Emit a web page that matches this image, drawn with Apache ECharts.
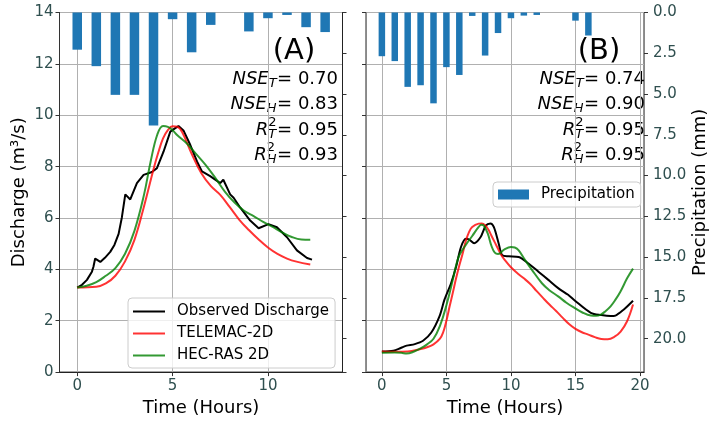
<!DOCTYPE html>
<html>
<head>
<meta charset="utf-8">
<script src="https://cdn.jsdelivr.net/npm/echarts@6/dist/echarts.min.js"></script>
<style>
  html, body { margin: 0; padding: 0; background: #fff; }
  #chart { width: 710px; height: 422px; }
</style>
</head>
<body>
<div id="chart"></div>
<script>
// ---- Event A: hourly precipitation (mm) ----
const precipHoursA = [0, 1, 2, 3, 4, 5, 6, 7, 8, 9, 10, 11, 12, 13];
const precipA = [2.28, 3.29, 5.05, 5.05, 6.93, 0.41, 2.44, 0.76, 0, 1.16, 0.35, 0.15, 0.9, 1.2];

// ---- Event A: discharge (m3/s) ----
const tObsA = [0, 0.25, 0.51, 0.77, 0.85, 0.94, 1.0, 1.21, 1.45, 1.73, 1.95, 2.17, 2.34, 2.52, 2.78, 3.13, 3.48, 3.92, 4.18, 4.53, 4.88, 5.14, 5.31, 5.57, 5.93, 6.28, 6.54, 6.97, 7.5, 7.66, 8.02, 8.2, 8.55, 9.07, 9.51, 10.03, 10.47, 11.0, 11.52, 12.05, 12.31];
const qObsA = [3.29, 3.4, 3.59, 3.91, 4.1, 4.42, 4.48, 4.29, 4.45, 4.68, 4.95, 5.38, 6.02, 6.92, 6.72, 7.36, 7.68, 7.79, 7.94, 8.59, 9.36, 9.5, 9.58, 9.41, 8.84, 8.2, 7.81, 7.63, 7.36, 7.49, 6.92, 6.79, 6.4, 5.9, 5.6, 5.76, 5.64, 5.25, 4.74, 4.44, 4.38];

const tTelA = [0, 1.0, 1.5, 2.0, 2.5, 3.0, 3.5, 4.0, 4.25, 4.5, 4.75, 5.0, 5.25, 5.5, 6.0, 6.5, 7.0, 7.5, 8.0, 8.5, 9.0, 9.5, 10.0, 10.5, 11.0, 11.5, 12.22];
const qTelA = [3.29, 3.32, 3.45, 3.75, 4.3, 5.15, 6.45, 7.9, 8.55, 9.1, 9.42, 9.57, 9.55, 9.35, 8.5, 7.75, 7.25, 6.9, 6.42, 5.93, 5.53, 5.17, 4.85, 4.6, 4.42, 4.3, 4.19];

const tHecA = [0, 0.5, 1.0, 1.5, 2.0, 2.5, 3.0, 3.5, 3.85, 4.2, 4.5, 4.75, 5.0, 5.25, 5.75, 6.25, 6.75, 7.25, 7.75, 8.25, 8.75, 9.25, 9.75, 10.25, 10.75, 11.25, 11.75, 12.22];
const qHecA = [3.29, 3.36, 3.5, 3.75, 4.05, 4.6, 5.5, 6.9, 8.2, 9.25, 9.58, 9.55, 9.42, 9.22, 8.9, 8.48, 8.05, 7.55, 7.02, 6.6, 6.28, 6.07, 5.85, 5.65, 5.44, 5.26, 5.16, 5.15];

// ---- Event B: hourly precipitation (mm) ----
const precipHoursB = [0, 1, 2, 3, 4, 5, 6, 7, 8, 9, 10, 11, 12, 13, 14, 15, 16];
const precipB = [2.68, 2.98, 4.56, 4.46, 5.57, 3.35, 3.83, 0.21, 2.64, 1.26, 0.35, 0.19, 0.15, 0, 0, 0.5, 1.41];

// ---- Event B: discharge (m3/s) ----
const tObsB = [0, 0.89, 1.5, 1.92, 2.55, 3.19, 3.83, 4.47, 4.85, 5.36, 5.75, 6.13, 6.51, 6.8, 7.15, 7.64, 8.05, 8.41, 8.68, 9.06, 9.33, 9.83, 10.6, 11.36, 12.13, 12.9, 13.66, 14.43, 14.92, 16.19, 17.0, 17.72, 18.1, 18.75, 19.46];
const qObsB = [0.8, 0.83, 0.95, 1.03, 1.09, 1.22, 1.54, 2.18, 2.82, 3.46, 4.1, 4.87, 5.19, 5.15, 5.02, 5.25, 5.7, 5.79, 5.64, 4.99, 4.55, 4.51, 4.48, 4.23, 3.91, 3.59, 3.27, 3.01, 2.8, 2.31, 2.22, 2.18, 2.2, 2.44, 2.78];

const tTelB = [0, 1, 2, 3, 3.5, 4.0, 4.5, 4.75, 5.0, 5.25, 5.5, 5.75, 6.0, 6.25, 6.5, 6.75, 7.0, 7.5, 7.75, 8.0, 8.25, 8.5, 8.75, 9.0, 9.25, 9.5, 10.0, 10.5, 11.0, 11.5, 12.0, 12.5, 13.0, 13.5, 14.0, 14.5, 15.0, 15.5, 16.0, 16.5, 17.0, 17.5, 18.0, 18.5, 19.0, 19.46];
const qTelB = [0.8, 0.79, 0.8, 0.9, 0.97, 1.08, 1.3, 1.55, 2.0, 2.56, 3.1, 3.65, 4.15, 4.6, 5.1, 5.45, 5.65, 5.78, 5.79, 5.72, 5.55, 5.3, 5.05, 4.8, 4.56, 4.38, 4.08, 3.85, 3.65, 3.43, 3.15, 2.88, 2.62, 2.38, 2.12, 1.87, 1.68, 1.55, 1.46, 1.36, 1.29, 1.28, 1.37, 1.58, 1.98, 2.63];

const tHecB = [0, 1, 1.5, 1.92, 2.5, 3.0, 3.5, 4.0, 4.5, 5.0, 5.5, 5.75, 6.0, 6.5, 7.0, 7.5, 7.7, 7.9, 8.2, 8.5, 8.75, 9.0, 9.5, 10.0, 10.3, 10.6, 11.1, 11.6, 12.4, 13.0, 13.66, 14.3, 14.92, 15.5, 16.19, 16.6, 16.96, 17.3, 17.72, 18.1, 18.49, 19.0, 19.46];
const qHecB = [0.75, 0.76, 0.75, 0.72, 0.8, 0.92, 1.08, 1.3, 1.8, 2.6, 3.6, 4.15, 4.55, 4.95, 5.3, 5.65, 5.74, 5.7, 5.4, 4.9, 4.65, 4.6, 4.78, 4.87, 4.85, 4.74, 4.36, 4.0, 3.46, 3.18, 2.95, 2.7, 2.5, 2.33, 2.2, 2.19, 2.24, 2.36, 2.56, 2.82, 3.14, 3.65, 4.03];

// ---- goodness-of-fit statistics ----
const statsA = { nseT: '0.70', nseH: '0.83', r2T: '0.95', r2H: '0.93' };
const statsB = { nseT: '0.74', nseH: '0.90', r2T: '0.95', r2H: '0.95' };

// tick values
const timeTicksA = [0, 5, 10];
const timeTicksB = [0, 5, 10, 15, 20];

const FONT = '"DejaVu Sans"';
const TICK_COLOR = '#2f4f4f';
const zip = (xs, ys) => xs.map((x, i) => [x, ys[i]]);

const chart = echarts.init(document.getElementById('chart'), null, { renderer: 'canvas' });

const measureCtx = document.createElement('canvas').getContext('2d');
function measure(text, font) { measureCtx.font = font; return measureCtx.measureText(text).width; }

function txt(x, y, text, font, align) {
  return {
    type: 'text', x: x, y: y, silent: true,
    style: { text: text, font: font, fill: '#000', align: align, textAlign: align, verticalAlign: 'middle', textVerticalAlign: 'middle' }
  };
}

// one "SYM_sub^sup= value" line, right aligned at xr
function statLine(xr, yc, base, sup, sub, val) {
  const bigFont = '18px ' + FONT;
  const itFont = 'italic 18px ' + FONT;
  const subFont = 'italic 13px ' + FONT;
  const supFont = '13px ' + FONT;
  const valText = '= ' + val;
  const out = [txt(xr, yc, valText, bigFont, 'right')];
  const x = xr - measure(valText, bigFont);
  const wScript = Math.max(measure(sub, subFont), sup ? measure(sup, supFont) : 0);
  const xs = x - wScript - 0.5;
  out.push(txt(xs, yc + 5, sub, subFont, 'left'));
  if (sup) out.push(txt(xs, yc - 7, sup, supFont, 'left'));
  out.push(txt(xs, yc, base, itFont, 'right'));
  return out;
}

function panelAnnotations(label, cx, xr, s) {
  const ys = [79, 104, 130, 155];
  return [txt(cx, 51, label, '29px ' + FONT, 'center')]
    .concat(statLine(xr, ys[0], 'NSE', null, 'T', s.nseT))
    .concat(statLine(xr, ys[1], 'NSE', null, 'H', s.nseH))
    .concat(statLine(xr, ys[2], 'R', '2', 'T', s.r2T))
    .concat(statLine(xr, ys[3], 'R', '2', 'H', s.r2H));
}

const tickStyle = { show: true, inside: false, length: 4, lineStyle: { color: '#333', width: 1 } };
const splitStyle = { show: true, lineStyle: { color: '#b0b0b0', width: 1 } };
const labelStyle = { color: TICK_COLOR, fontSize: 15, fontFamily: FONT };
const titleStyle = { color: '#000', fontSize: 18, fontFamily: FONT };

function timeAxis(gridIndex, min, max, ticks) {
  return {
    type: 'value', gridIndex: gridIndex, min: min, max: max,
    name: 'Time (Hours)', nameLocation: 'middle', nameGap: 25,
    nameTextStyle: titleStyle,
    axisLine: { show: true, onZero: false, lineStyle: { color: '#222', width: 1 } },
    axisTick: Object.assign({}, tickStyle, { customValues: ticks }),
    axisLabel: Object.assign({}, labelStyle, { margin: 7, customValues: ticks }),
    splitLine: splitStyle
  };
}

const lineSeries = (name, color, xi, yi, data, smooth) => ({
  type: 'line', name: name, xAxisIndex: xi, yAxisIndex: yi, data: data,
  showSymbol: false, smooth: smooth,
  lineStyle: { color: color, width: 2 }, itemStyle: { color: color },
  z: 3
});

const BLUE = '#1f77b4';
const RED = 'rgba(255,0,0,0.8)';
const GREEN = 'rgba(0,128,0,0.8)';

const option = {
  animation: false,
  backgroundColor: '#fff',
  textStyle: { fontFamily: FONT },
  grid: [
    { left: 59.5, top: 12.5, width: 283, height: 364, show: true, borderColor: '#222', borderWidth: 1, backgroundColor: 'transparent' },
    { left: 366, top: 12.5, width: 281, height: 364, show: true, borderColor: '#222', borderWidth: 1, backgroundColor: 'transparent' }
  ],
  xAxis: [
    timeAxis(0, -0.93, 13.91, timeTicksA),
    timeAxis(1, -1.23, 20.31, timeTicksB)
  ],
  yAxis: [
    { // discharge, panel A
      type: 'value', gridIndex: 0, min: 0, max: 14, interval: 2, position: 'left',
      name: 'Discharge (m³/s)', nameLocation: 'middle', nameGap: 31, nameRotate: 90,
      nameTextStyle: titleStyle,
      axisLine: { show: true, onZero: false, lineStyle: { color: '#333', width: 1 } },
      axisTick: tickStyle,
      axisLabel: Object.assign({}, labelStyle, { margin: 6 }),
      splitLine: splitStyle
    },
    { // precipitation, panel A (shared scale, no labels)
      type: 'value', gridIndex: 0, min: 0, max: 22.05, interval: 2.5, position: 'right', inverse: true,
      axisLine: { show: true, onZero: false, lineStyle: { color: '#222', width: 1 } },
      axisTick: tickStyle,
      axisLabel: { show: false },
      splitLine: { show: false }
    },
    { // discharge, panel B (shared scale, no labels)
      type: 'value', gridIndex: 1, min: 0, max: 14, interval: 2, position: 'left',
      axisLine: { show: true, onZero: false, lineStyle: { color: '#888', width: 1 } },
      axisTick: tickStyle,
      axisLabel: { show: false },
      splitLine: splitStyle
    },
    { // precipitation, panel B
      type: 'value', gridIndex: 1, min: 0, max: 22.05, interval: 2.5, position: 'right', inverse: true,
      name: 'Precipitation (mm)', nameLocation: 'middle', nameGap: 47, nameRotate: 90,
      nameTextStyle: titleStyle,
      axisLine: { show: true, onZero: false, lineStyle: { color: '#888', width: 1 } },
      axisTick: tickStyle,
      axisLabel: Object.assign({}, labelStyle, { margin: 9, showMaxLabel: false, formatter: v => v.toFixed(1) }),
      splitLine: { show: false }
    }
  ],
  legend: [
    {
      data: ['Observed Discharge', 'TELEMAC-2D', 'HEC-RAS 2D'],
      orient: 'vertical', left: 128, top: 298,
      icon: 'rect', itemWidth: 32, itemHeight: 2, itemGap: 7,
      padding: [6, 6, 5, 5],
      backgroundColor: 'rgba(255,255,255,0.8)', borderColor: '#cccccc', borderWidth: 1, borderRadius: 4,
      textStyle: { color: '#000', fontSize: 15, fontFamily: FONT, padding: [0, 0, 0, 7] },
      selectedMode: false
    },
    {
      data: ['Precipitation'],
      orient: 'vertical', left: 493, top: 182,
      icon: 'rect', itemWidth: 31, itemHeight: 10,
      padding: [5, 6, 5, 5],
      backgroundColor: 'rgba(255,255,255,0.8)', borderColor: '#cccccc', borderWidth: 1, borderRadius: 4,
      textStyle: { color: '#000', fontSize: 15, fontFamily: FONT, padding: [0, 0, 0, 7] },
      selectedMode: false
    }
  ],
  series: [
    { type: 'bar', name: 'Precipitation', xAxisIndex: 0, yAxisIndex: 1, data: zip(precipHoursA, precipA), barWidth: 9.5, itemStyle: { color: BLUE }, z: 2 },
    { type: 'bar', name: 'Precipitation', xAxisIndex: 1, yAxisIndex: 3, data: zip(precipHoursB, precipB), barWidth: 6.5, itemStyle: { color: BLUE }, z: 2 },
    lineSeries('Observed Discharge', '#000', 0, 0, zip(tObsA, qObsA), false),
    lineSeries('TELEMAC-2D', RED, 0, 0, zip(tTelA, qTelA), 0.4),
    lineSeries('HEC-RAS 2D', GREEN, 0, 0, zip(tHecA, qHecA), 0.4),
    lineSeries('Observed Discharge', '#000', 1, 2, zip(tObsB, qObsB), 0.3),
    lineSeries('TELEMAC-2D', RED, 1, 2, zip(tTelB, qTelB), 0.4),
    lineSeries('HEC-RAS 2D', GREEN, 1, 2, zip(tHecB, qHecB), 0.4)
  ],
  graphic: panelAnnotations('(A)', 294, 338, statsA).concat(panelAnnotations('(B)', 599, 645, statsB))
};

chart.setOption(option);
</script>
</body>
</html>
